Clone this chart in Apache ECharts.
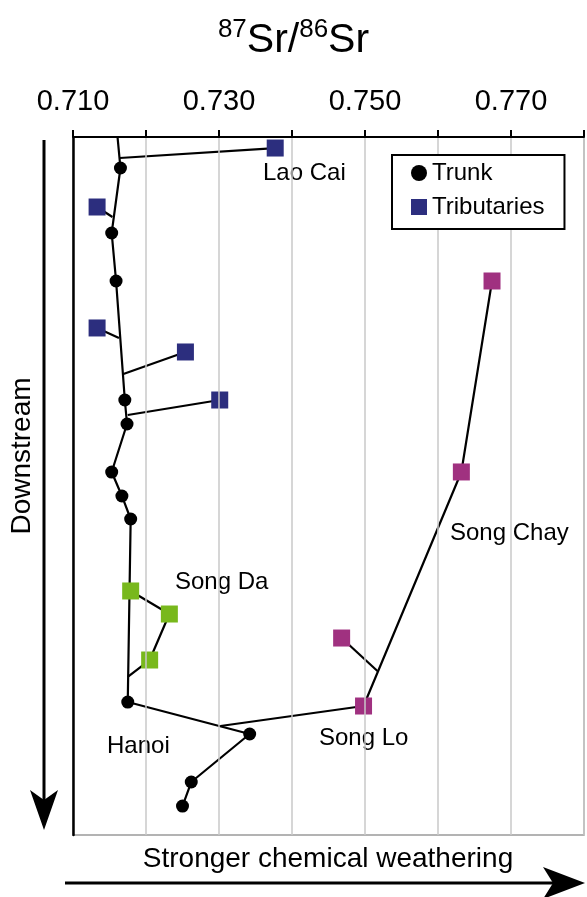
<!DOCTYPE html>
<html><head><meta charset="utf-8">
<script src="https://cdn.jsdelivr.net/npm/echarts@6/dist/echarts.min.js"></script>
<style>html,body{margin:0;padding:0;background:#fff}#c{width:587px;height:897px}</style>
</head><body><div id="c"></div>
<script>
// ---- data (x = 87Sr/86Sr, y = relative downstream position 0..100) ----
const xTickLabels = ['0.710','0.730','0.750','0.770'];
const trunkX = [0.7161,0.7165,0.7153,0.7159,0.7171,0.7174,0.7153,0.7167,0.7179,0.7175,0.7342,0.7262,0.7250];
const trunkY = [0,4.44,13.75,20.63,37.68,41.12,48.0,51.43,54.73,80.95,85.53,92.41,95.85];
// upper tributaries (navy): sample point and confluence point on trunk
const tribX  = [0.7377,0.7133,0.7133,0.7254,0.7301];
const tribY  = [1.58,10.03,27.36,30.80,37.68];
const tribJX = [0.7164,0.7154,0.7163,0.7169,0.7175];
const tribJY = [3.01,11.46,28.80,33.95,39.83];
// Song Da (green), last point = confluence
const songDaX = [0.7179,0.7232,0.7205,0.7175];
const songDaY = [65.04,68.34,74.93,77.36];
// Song Chay -> Song Lo (magenta), last point = confluence with trunk
const chayX = [0.7674,0.7632,0.7498,0.7302];
const chayY = [20.63,47.99,81.52,84.38];
// Song Lo side tributary (magenta)
const loTribX = [0.7468,0.7517];
const loTribY = [71.78,76.5];

const FONT = "'Liberation Sans', Arial, Helvetica, sans-serif";
const NAVY = '#2c2e7e', GREEN = '#78b81c', MAG = '#a03180';

function pts(xs, ys, lastNone, firstNone){
  return xs.map((x,i)=>{
    const it = {value:[x, ys[i]]};
    if ((lastNone && i===xs.length-1) || (firstNone && i===0)) it.symbol='none';
    return it;
  });
}
function branch(name, xs, ys, color, lastNone){
  return {type:'line', name:name, data:pts(xs,ys,lastNone,false), symbol:'rect', symbolSize:17,
    showAllSymbol:true, itemStyle:{color:color}, lineStyle:{color:'#000', width:2.2}, z:2, animation:false,
    emphasis:{disabled:true}};
}
const series = [];
series.push({type:'line', name:'Trunk', data:pts(trunkX,trunkY,false,true), symbol:'circle', symbolSize:13,
  showAllSymbol:true, itemStyle:{color:'#000'}, lineStyle:{color:'#000', width:2.2}, z:2, animation:false, emphasis:{disabled:true}});
for (let i=0;i<tribX.length;i++){
  series.push(branch('Tributaries',[tribX[i],tribJX[i]],[tribY[i],tribJY[i]],NAVY,true));
}
series.push(branch('Song Da',songDaX,songDaY,GREEN,true));
series.push(branch('Song Chay',chayX,chayY,MAG,true));
series.push(branch('Song Lo trib',loTribX,loTribY,MAG,true));

const chart = echarts.init(document.getElementById('c'), null, {renderer:'canvas'});
chart.setOption({
  animation:false,
  textStyle:{fontFamily:FONT},
  title:{
    text:'{s|87}{b|Sr/}{s|86}{b|Sr}', left:'center', top:12,
    textStyle:{fontWeight:'normal', rich:{
      s:{fontSize:26, fontFamily:FONT, fontWeight:'normal', color:'#000', verticalAlign:'top', lineHeight:26},
      b:{fontSize:41, fontFamily:FONT, fontWeight:'normal', color:'#000', lineHeight:48}
    }}
  },
  legend:{
    orient:'vertical', left:392, top:155, padding:[6,20,10,19], itemGap:10,
    itemWidth:16, itemHeight:16, borderColor:'#000', borderWidth:2, backgroundColor:'#fff',
    textStyle:{fontSize:24, fontFamily:FONT, color:'#000', lineHeight:24},
    data:[{name:'Trunk', icon:'circle'},{name:'Tributaries', icon:'rect'}],
    selectedMode:false, z:4
  },
  grid:{left:73, right:-2, top:137, bottom:62, show:true, borderColor:'#9a9a9a', borderWidth:1.5, backgroundColor:'transparent'},
  xAxis:{
    type:'value', position:'top', min:0.71, max:0.78, interval:0.01, z:3,
    axisLine:{show:true, lineStyle:{color:'#000', width:2}},
    axisTick:{show:true, inside:false, length:7, lineStyle:{color:'#000', width:2}},
    splitLine:{show:true, lineStyle:{color:'#c8c8c8', width:1.5}},
    axisLabel:{fontSize:29, fontFamily:FONT, color:'#000', margin:21,
      formatter:function(v){const s=v.toFixed(3); return xTickLabels.indexOf(s)>=0?s:'';}}
  },
  yAxis:{
    type:'value', inverse:true, min:0, max:100, z:3,
    axisLine:{show:true, lineStyle:{color:'#000', width:2.5}},
    axisTick:{show:false}, axisLabel:{show:false}, splitLine:{show:false}
  },
  graphic:[
    {type:'text', left:263, top:161, style:{text:'Lao Cai', font:'24px '+FONT, fill:'#000'}},
    {type:'text', left:175, top:570, style:{text:'Song Da', font:'24px '+FONT, fill:'#000'}},
    {type:'text', left:107, top:734, style:{text:'Hanoi', font:'24px '+FONT, fill:'#000'}},
    {type:'text', left:319, top:726, style:{text:'Song Lo', font:'24px '+FONT, fill:'#000'}},
    {type:'text', left:450, top:521, style:{text:'Song Chay', font:'24px '+FONT, fill:'#000'}},
    {type:'text', x:22, y:456, rotation:Math.PI/2, style:{text:'Downstream', font:'28px '+FONT, fill:'#000', align:'center', verticalAlign:'middle'}},
    {type:'text', x:328, y:859, style:{text:'Stronger chemical weathering', font:'28px '+FONT, fill:'#000', align:'center', verticalAlign:'middle'}},
    {type:'line', shape:{x1:44, y1:140, x2:44, y2:805}, style:{stroke:'#000', lineWidth:3}},
    {type:'polygon', shape:{points:[[44,830],[30,790],[44,800],[58,790]]}, style:{fill:'#000'}},
    {type:'line', shape:{x1:65, y1:883, x2:560, y2:883}, style:{stroke:'#000', lineWidth:3}},
    {type:'polygon', shape:{points:[[585,883],[543,867],[553,883],[543,899]]}, style:{fill:'#000'}}
  ],
  series:series
});
</script></body></html>
